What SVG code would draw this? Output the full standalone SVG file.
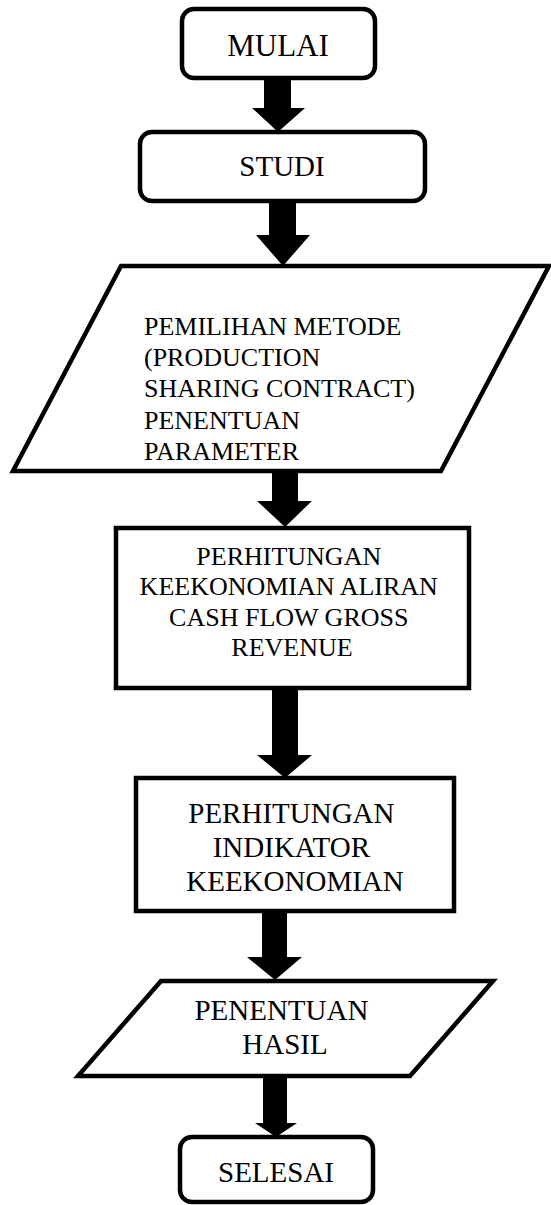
<svg xmlns="http://www.w3.org/2000/svg" width="551" height="1205" viewBox="0 0 551 1205">
<style>
.n{fill:#fff;stroke:#000;stroke-width:4.5;stroke-linejoin:miter}
.t{font-family:"Liberation Serif","Times New Roman",serif;fill:#000}
.c{text-anchor:middle}
.a{fill:#000;stroke:none}
</style>
<rect width="551" height="1205" fill="#fff"/>
<g id="mulai">
<rect class="n" x="182" y="9" width="193" height="69" rx="12"/>
<text class="t c" x="278" y="56" font-size="31">MULAI</text>
</g>
<g id="studi">
<rect class="n" x="140" y="132" width="285" height="69" rx="12"/>
<text class="t c" x="282" y="176" font-size="29">STUDI</text>
</g>
<g id="pemilihan">
<polygon class="n" points="121,266 549,266 441,471 13,471"/>
<text class="t" font-size="26">
<tspan x="144" y="335">PEMILIHAN METODE</tspan>
<tspan x="144" y="366">(PRODUCTION</tspan>
<tspan x="144" y="397">SHARING CONTRACT)</tspan>
<tspan x="144" y="429">PENENTUAN</tspan>
<tspan x="144" y="460">PARAMETER</tspan>
</text>
</g>
<g id="perhitungan-cashflow">
<rect class="n" x="116" y="528" width="353" height="160"/>
<text class="t c" font-size="26">
<tspan x="292" y="565">PERHITUNGAN</tspan>
<tspan x="292" y="595">KEEKONOMIAN ALIRAN</tspan>
<tspan x="292" y="626">CASH FLOW GROSS</tspan>
<tspan x="292" y="656">REVENUE</tspan>
</text>
</g>
<g id="perhitungan-indikator">
<rect class="n" x="136" y="778" width="318" height="133"/>
<text class="t c" font-size="29">
<tspan x="295" y="823">PERHITUNGAN</tspan>
<tspan x="295" y="857">INDIKATOR</tspan>
<tspan x="295" y="891">KEEKONOMIAN</tspan>
</text>
</g>
<g id="penentuan-hasil">
<polygon class="n" points="161,981 493,981 410,1076 78,1076"/>
<text class="t c" font-size="29">
<tspan x="285" y="1020">PENENTUAN</tspan>
<tspan x="285" y="1054">HASIL</tspan>
</text>
</g>
<g id="selesai">
<rect class="n" x="180" y="1137" width="193" height="65" rx="12"/>
<text class="t c" x="276" y="1182" font-size="29">SELESAI</text>
</g>
<g id="connectors">
<polygon class="a" points="264,80 291,80 291,108 305,108 278,132 252,108 264,108"/>
<polygon class="a" points="269,203 296,203 296,235 310,235 283,266 256,235 269,235"/>
<polygon class="a" points="272,473 298,473 298,501 312,501 285,527 257,501 272,501"/>
<polygon class="a" points="272,690 298,690 298,755 312,755 285,778 257,755 272,755"/>
<polygon class="a" points="262,913 287,913 287,957 302,957 275,980 247,957 262,957"/>
<polygon class="a" points="263,1078 287,1078 287,1123 297,1123 276,1137 255,1123 263,1123"/>
</g>
</svg>
